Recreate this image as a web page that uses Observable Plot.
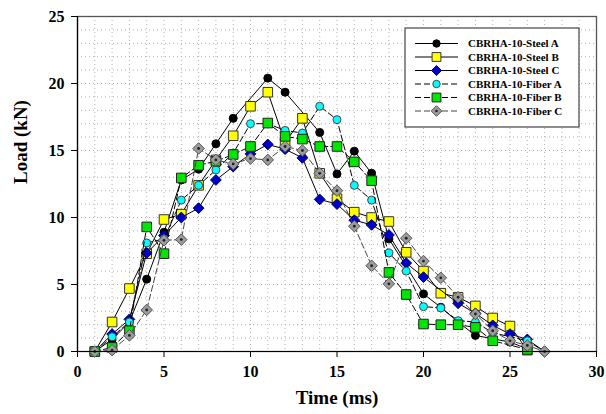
<!DOCTYPE html>
<html>
<head>
<meta charset="utf-8">
<script src="https://cdn.jsdelivr.net/npm/d3@7"></script>
<script src="https://cdn.jsdelivr.net/npm/@observablehq/plot@0.6"></script>
<style>
  body { margin: 0; background: #fff; }
  svg { display: block; }
</style>
</head>
<body>
<div id="chart"></div>
<script>
// Load–time histories of the CBRHA-10 specimens (null = no reading at that time)
const time = [1, 2, 3, 4, 5, 6, 7, 8, 9, 10, 11, 12, 13, 14, 15, 16, 17, 18, 19, 20, 21, 22, 23, 24, 25, 26, 27];
const steelA = [0, 0.9, 2.2, 5.4, 8.9, 12.8, 13.6, 15.5, 17.4, null, 20.4, 19.35, null, 16.35, 13.25, 14.95, 13.3, 8.4, null, 4.3, 3.3, 2.2, 1.2, null, 0.7, 0.2, null];
const steelB = [0, 2.2, 4.7, 7.3, 9.85, 10.25, 12.4, 14.3, 16.1, 18.3, 19.35, 15.6, 17.4, 13.3, 11.4, 10.4, 10.0, 9.7, 7.4, 6.0, 4.35, 4.05, 3.4, 2.5, 1.9, 0.1, null];
const steelC = [0, 1.3, 2.4, 7.35, 8.65, 10.0, 10.7, 12.8, 13.8, 14.75, 15.45, 15.1, 14.45, 11.35, 11.0, 9.8, 9.45, 8.7, 6.6, 5.55, null, 3.6, 2.85, 1.95, 1.3, 0.9, 0];
const fiberA = [0, 1.1, 2.2, 8.1, 8.4, 11.3, 12.4, 13.55, 14.8, 17.0, 17.0, 16.5, 16.3, 18.3, 17.3, 12.4, 11.3, 7.35, 6.0, 3.35, 3.25, 2.3, 2.2, 1.4, null, 0.8, 0];
const fiberB = [0, 0.3, 1.55, 9.3, 7.3, 12.95, 13.9, 14.2, 14.7, 15.3, 17.05, 16.05, 15.85, 15.3, 15.3, 14.15, 12.75, 5.9, 4.25, 2.05, 2.0, 2.0, 1.8, 0.8, null, 0.15, null];
const fiberC = [0, 0.1, 1.2, 3.1, 8.3, 8.35, 15.15, 14.3, 14.0, 14.4, 14.3, 15.3, 15.0, 13.3, 12.0, 9.35, 6.4, 5.05, 8.45, 6.75, 5.5, 4.05, 2.8, 1.55, 0.8, 0.45, 0];
const seriesNames = ["CBRHA-10-Steel A", "CBRHA-10-Steel B", "CBRHA-10-Steel C", "CBRHA-10-Fiber A", "CBRHA-10-Fiber B", "CBRHA-10-Fiber C"];
const xTicks = [0, 5, 10, 15, 20, 25, 30];
const yTicks = [0, 5, 10, 15, 20, 25];

// Rotated-square marker (d3's diamond is elongated)
const diamond = {
  draw(ctx, size) {
    const h = Math.sqrt(size / 2);
    ctx.moveTo(0, -h); ctx.lineTo(h, 0); ctx.lineTo(0, h); ctx.lineTo(-h, 0); ctx.closePath();
  }
};

const styles = [
  {values: steelA, symbol: "circle", r: 4,   fill: "#000",    stroke: "#000",    line: "#000", dash: null},
  {values: steelB, symbol: "square", r: 5.4, fill: "#ffff00", stroke: "#333",    line: "#000", dash: null},
  {values: steelC, symbol: diamond,  r: 4.3, fill: "#0000cc", stroke: "#000050", line: "#000", dash: null},
  {values: fiberA, symbol: "circle", r: 4,   fill: "#00ffff", stroke: "#444",    line: "#000", dash: "6,3"},
  {values: fiberB, symbol: "square", r: 5.4, fill: "#00e600", stroke: "#222",    line: "#000", dash: "6,3"},
  {values: fiberC, symbol: diamond,  r: 4.6, fill: "#9c9c9c", stroke: "#555",    line: "#444", dash: "6,3"}
];

const rowsOf = (vals) => time.map((t, i) => ({t, v: vals[i]})).filter(d => d.v != null);

const marks = [
  Plot.ruleX(d3.range(0, 31), {stroke: "#b0b0b0", strokeDasharray: "1,3", strokeWidth: 1}),
  Plot.ruleY(d3.range(0, 26), {stroke: "#b0b0b0", strokeDasharray: "1,3", strokeWidth: 1})
];

styles.forEach((s, k) => {
  const rows = rowsOf(s.values);
  marks.push(Plot.line(rows, {x: "t", y: "v", stroke: s.line, strokeWidth: 1, strokeDasharray: s.dash}));
  marks.push(Plot.dot(rows, {x: "t", y: "v", symbol: s.symbol, r: s.r, fill: s.fill, stroke: s.stroke, strokeWidth: 1}));
  if (k === 5) marks.push(Plot.dot(rows, {x: "t", y: "v", r: 1.4, fill: "#222", stroke: "none"}));
});

marks.push(
  Plot.frame({stroke: "#555", strokeWidth: 1.3}),
  Plot.ruleX([0], {stroke: "#000", strokeWidth: 1.2}),
  Plot.ruleY([0], {stroke: "#000", strokeWidth: 1.2}),
  Plot.axisX(xTicks, {tickSize: 6, tickPadding: 8, fontSize: 16, fontWeight: "bold", label: null, stroke: "#000"}),
  Plot.axisY(yTicks, {tickSize: 6, tickPadding: 7, fontSize: 16, fontWeight: "bold", label: null, stroke: "#000"}),
  Plot.text(["Time (ms)"], {frameAnchor: "bottom", dy: 52, fontSize: 19, fontWeight: "bold", fill: "#000"}),
  Plot.text(["Load (kN)"], {frameAnchor: "left", dx: -57, rotate: -90, fontSize: 19, fontWeight: "bold", fill: "#000"})
);

const svg = Plot.plot({
  width: 606,
  height: 414,
  marginLeft: 77,
  marginRight: 10,
  marginTop: 16,
  marginBottom: 63,
  style: {fontFamily: "'Liberation Serif', 'Times New Roman', serif", fontWeight: "bold", color: "#000", background: "#fff"},
  x: {domain: [0, 30]},
  y: {domain: [0, 25]},
  marks
});

// Legend box in the upper right of the plot area
const lg = d3.select(svg).append("g").attr("class", "legend").attr("text-anchor", "start");
lg.append("rect").attr("x", 405).attr("y", 28).attr("width", 174).attr("height", 99)
  .attr("fill", "#fff").attr("stroke", "#444").attr("stroke-width", 1.2);
styles.forEach((s, i) => {
  const y = 43.5 + i * 13.5;
  lg.append("line").attr("x1", 415).attr("x2", 458).attr("y1", y).attr("y2", y)
    .attr("stroke", s.line).attr("stroke-width", 1).attr("stroke-dasharray", s.dash);
  const sym = typeof s.symbol === "string" ? (s.symbol === "circle" ? d3.symbolCircle : d3.symbolSquare) : s.symbol;
  lg.append("path").attr("transform", `translate(436.5,${y})`)
    .attr("d", d3.symbol(sym, Math.PI * s.r * s.r * 0.85)())
    .attr("fill", s.fill).attr("stroke", s.stroke).attr("stroke-width", 1);
  if (i === 5) lg.append("circle").attr("cx", 436.5).attr("cy", y).attr("r", 1.3).attr("fill", "#222");
  lg.append("text").attr("x", 468).attr("y", y).attr("dy", "0.35em").attr("text-anchor", "start")
    .attr("font-size", 11).attr("font-weight", "bold").attr("fill", "#000").text(seriesNames[i]);
});

document.getElementById("chart").appendChild(svg);
</script>
</body>
</html>
